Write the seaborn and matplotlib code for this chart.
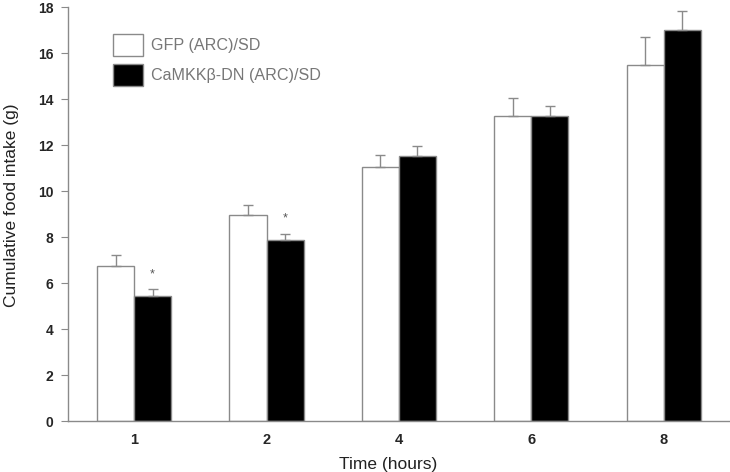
import pandas as pd
import numpy as np
import matplotlib
matplotlib.use("Agg")
import matplotlib.pyplot as plt
import seaborn as sns
from matplotlib.patches import Patch

# ---------------- Data ----------------
times = ["1", "2", "4", "6", "8"]
groups = ["GFP (ARC)/SD", "CaMKKβ-DN (ARC)/SD"]
gfp_mean = [6.74, 8.95, 11.04, 13.26, 15.50]
gfp_sem = [0.48, 0.45, 0.53, 0.80, 1.21]
dn_mean = [5.43, 7.85, 11.53, 13.26, 17.00]
dn_sem = [0.29, 0.30, 0.43, 0.42, 0.83]
signif = ["*", "*", "", "", ""]

df = pd.DataFrame({
    "time": times * 2,
    "group": [groups[0]] * len(times) + [groups[1]] * len(times),
    "intake": gfp_mean + dn_mean,
})

# ---------------- Plot ----------------
sns.set_style("white")
plt.rcParams["font.family"] = ["Liberation Sans", "DejaVu Sans"]
edge = "#8a8a8a"

fig = plt.figure(figsize=(7.3, 4.72), dpi=100)
ax = fig.add_axes([0.093, 0.108, 0.907, 0.877])

sns.barplot(data=df, x="time", y="intake", hue="group", order=times,
            hue_order=groups, palette=["white", "black"], width=0.56,
            gap=0, edgecolor=edge, linewidth=1.0, errorbar=None,
            legend=False, ax=ax)

# upper-only error bars
for i, (cont, sem) in enumerate(zip(ax.containers, [gfp_sem, dn_sem])):
    xs = [b.get_x() + b.get_width() / 2 for b in cont]
    hs = [b.get_height() for b in cont]
    ax.errorbar(xs, hs, yerr=[np.zeros(len(sem)), sem], fmt="none",
                ecolor=edge, elinewidth=1.0, capsize=3.6, capthick=1.0)
    if i == 1:
        for x, h, e, s in zip(xs, hs, sem, signif):
            if s:
                ax.text(x, h + e + 0.4, s, ha="center", va="bottom",
                        fontsize=9, color="#555555")

ax.set_ylim(0, 18)
ax.set_xlim(-0.5, 4.5)
ax.set_yticks(range(0, 19, 2))
ax.set_xticks(range(len(times)))
ax.set_xticklabels(times)
ax.set_xticks(np.arange(-0.5, 4.6, 1), minor=True)
ax.tick_params(axis="x", which="major", length=0, pad=8.5)
ax.tick_params(axis="x", which="minor", length=5, color=edge, direction="out")
ax.tick_params(axis="y", length=5, color=edge, direction="out", left=True, pad=5.5)
for lab in ax.get_xticklabels():
    lab.set_fontsize(10.5)
    lab.set_fontweight("bold")
for lab in ax.get_yticklabels():
    lab.set_fontsize(10)
    lab.set_fontweight("bold")

for s in ["top", "right"]:
    ax.spines[s].set_visible(False)
for s in ["left", "bottom"]:
    ax.spines[s].set_color(edge)
    ax.spines[s].set_linewidth(1.0)

ax.set_xlabel("Time (hours)", fontsize=12.5, color="#222222")
ax.set_ylabel("Cumulative food intake (g)", fontsize=12.5, color="#222222")
ax.xaxis.set_label_coords(0.483, -0.087)
ax.yaxis.set_label_coords(-0.074, 0.522)

handles = [Patch(facecolor="white", edgecolor=edge),
           Patch(facecolor="black", edgecolor=edge)]
leg = ax.legend(handles, groups, loc="upper left", bbox_to_anchor=(0.046, 0.97),
                frameon=False, fontsize=11.6, handlelength=1.9, handleheight=1.75,
                labelspacing=0.45, handletextpad=0.45)
for t in leg.get_texts():
    t.set_color("#777777")

fig.savefig("out.png", dpi=100)
